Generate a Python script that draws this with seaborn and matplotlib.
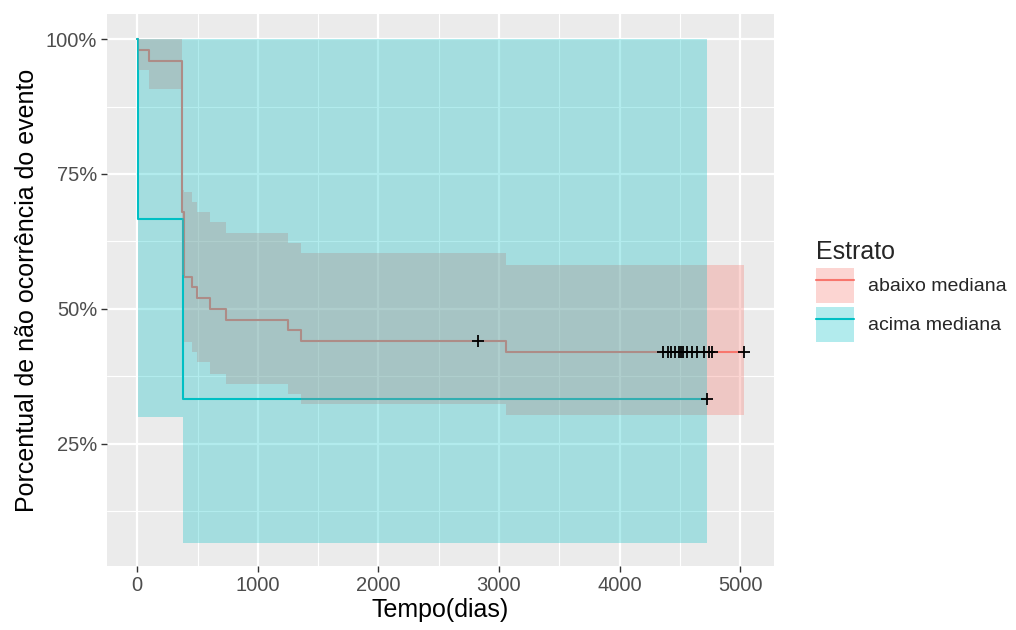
import matplotlib
matplotlib.use("Agg")
import numpy as np
import pandas as pd
import matplotlib.pyplot as plt
import seaborn as sns
from matplotlib.patches import Patch
from matplotlib.lines import Line2D

# ---------------- data ----------------
strata = ["abaixo mediana", "acima mediana"]
colors = ["#F8766D", "#00BFC4"]

red_time = [0, 8, 100, 372, 388, 458, 494, 604, 737, 1253, 1355, 3060]
red_surv = [1.00, 0.98, 0.96, 0.68, 0.56, 0.54, 0.52, 0.50, 0.48, 0.46, 0.44, 0.42]
red_upper = [1.00, 1.00, 1.00, 0.72, 0.717, 0.699, 0.679, 0.661, 0.641, 0.623, 0.603, 0.581]
red_lower = [1.00, 0.942, 0.907, 0.562, 0.439, 0.420, 0.401, 0.380, 0.361, 0.343, 0.324, 0.304]
red_end = 5030
red_censor_time = [2830, 4360, 4400, 4430, 4460, 4490, 4510, 4530, 4560,
                   4600, 4640, 4700, 4740, 4770, 5030]
red_censor_surv = [0.44] + [0.42] * 14

teal_time = [0, 8, 380]
teal_surv = [1.0, 0.667, 0.333]
teal_upper = [1.0, 1.0, 1.0]
teal_lower = [1.0, 0.300, 0.067]
teal_end = 4729
teal_censor_time = [4729]
teal_censor_surv = [0.333]

y_ticks = [0.25, 0.50, 0.75, 1.00]
y_ticklabels = ["25%", "50%", "75%", "100%"]
x_ticks = [0, 1000, 2000, 3000, 4000, 5000]

# ---------------- build tables ----------------
def steps(t, s, end):
    return list(t) + [end], list(s) + [s[-1]]

rt, rs = steps(red_time, red_surv, red_end)
tt, ts = steps(teal_time, teal_surv, teal_end)
lines = pd.DataFrame({
    "time": rt + tt,
    "surv": rs + ts,
    "Estrato": [strata[0]] * len(rt) + [strata[1]] * len(tt),
})
cens = pd.DataFrame({
    "time": red_censor_time + teal_censor_time,
    "surv": red_censor_surv + teal_censor_surv,
})

# ---------------- style ----------------
sns.set_theme(style="darkgrid", rc={
    "axes.facecolor": "#EBEBEB",
    "figure.facecolor": "white",
    "grid.color": "white",
    "axes.edgecolor": "#EBEBEB",
    "xtick.color": "#333333",
    "ytick.color": "#333333",
    "xtick.labelcolor": "#4D4D4D",
    "ytick.labelcolor": "#4D4D4D",
    "xtick.bottom": True,
    "ytick.left": True,
    "xtick.major.size": 4,
    "ytick.major.size": 4,
    "xtick.major.width": 1.0,
    "ytick.major.width": 1.0,
    "xtick.major.pad": 3,
    "ytick.major.pad": 3,
})
plt.rcParams["font.family"] = ["Liberation Sans", "DejaVu Sans"]

fig = plt.figure(figsize=(10.16, 6.30), dpi=100)
ax = fig.add_axes([107 / 1016, 1 - 566 / 630, (774 - 107) / 1016, (566 - 14) / 630])

sns.lineplot(data=lines, x="time", y="surv", hue="Estrato", hue_order=strata,
             palette=colors, drawstyle="steps-post", estimator=None, sort=False,
             linewidth=1.5, legend=False, ax=ax, zorder=2)

ru, rl = steps(red_time, red_upper, red_end)[1], steps(red_time, red_lower, red_end)[1]
tu, tl = steps(teal_time, teal_upper, teal_end)[1], steps(teal_time, teal_lower, teal_end)[1]
ax.fill_between(rt, rl, ru, step="post", color=colors[0], alpha=0.3, linewidth=0, zorder=3)
ax.fill_between(tt, tl, tu, step="post", color=colors[1], alpha=0.3, linewidth=0, zorder=3)

sns.scatterplot(data=cens, x="time", y="surv", marker="+", color="black", s=70,
                linewidth=1.3, ax=ax, zorder=4, legend=False)

ax.set_xlim(-251, 5281)
ax.set_ylim(0.0235, 1.0465)
ax.set_xticks(x_ticks)
ax.set_xticklabels([str(v) for v in x_ticks], fontsize=14.5)
ax.set_yticks(y_ticks)
ax.set_yticklabels(y_ticklabels, fontsize=14.5)
ax.set_xticks([500, 1500, 2500, 3500, 4500], minor=True)
ax.set_yticks([0.125, 0.375, 0.625, 0.875], minor=True)
ax.grid(which="major", color="white", linewidth=1.6)
ax.grid(which="minor", color="white", linewidth=0.8)
ax.tick_params(which="minor", length=0)
for sp in ax.spines.values():
    sp.set_visible(False)
ax.set_axisbelow(True)

ax.set_xlabel("Tempo(dias)", fontsize=18, color="black", labelpad=2)
ax.set_ylabel("Porcentual de não ocorrência do evento", fontsize=18, color="black", labelpad=5)

handles = [(Patch(facecolor=c, alpha=0.3, edgecolor="none"), Line2D([], [], color=c, lw=1.5))
           for c in colors]
leg = fig.legend(handles, strata, title="Estrato", loc="center left",
                 bbox_to_anchor=(806 / 1016, 0.538), frameon=False, fontsize=14,
                 title_fontsize=18, handlelength=1.95, handleheight=2.4,
                 labelspacing=0.2, handletextpad=0.75, borderpad=0, alignment="left")

fig.savefig("out.png", dpi=100)
